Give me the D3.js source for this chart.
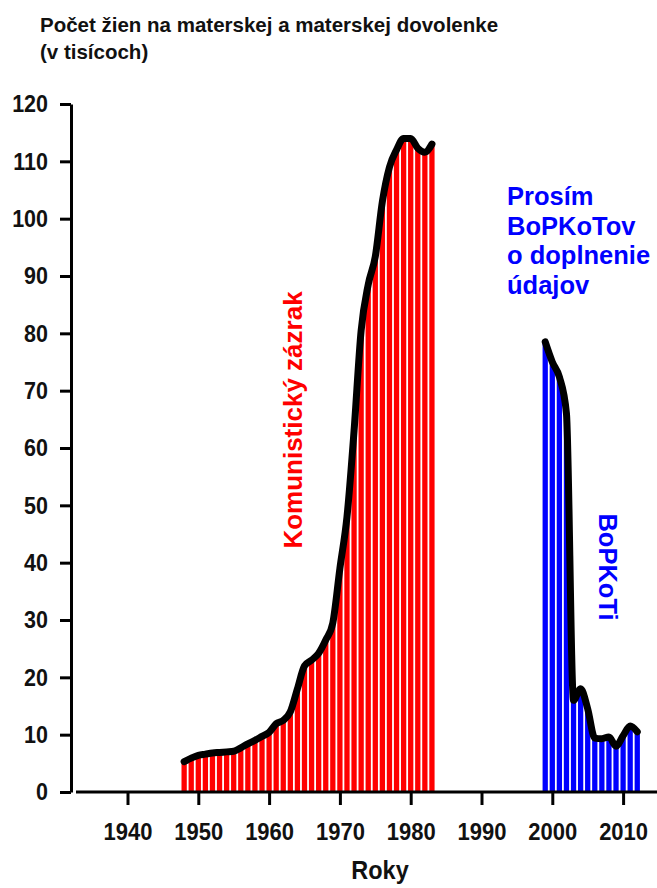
<!DOCTYPE html>
<html>
<head>
<meta charset="utf-8">
<script src="https://cdn.jsdelivr.net/npm/d3@7"></script>
<style>
  body { margin: 0; background: #fff; }
  text { font-family: "Liberation Sans", Arial, sans-serif; font-weight: bold; }
</style>
</head>
<body>
<svg id="chart" width="657" height="888"></svg>
<script>
// Data - years and values (thousands)
var redYears = d3.range(1948, 1984);
var redValues = [5.3, 5.9, 6.4, 6.6, 6.8, 6.9, 7.0, 7.1, 7.7, 8.4, 9.0, 9.7,
                 10.4, 11.9, 12.5, 14.0, 18.0, 22.0, 23.0, 24.2, 26.5, 29.5,
                 39.0, 48.0, 63.0, 80.5, 88.5, 93.4, 103.0, 109.0, 112.0, 114.0,
                 114.0, 112.3, 111.6, 113.0];
var blueYears = d3.range(1999, 2013);
var blueValues = [78.5, 75.0, 72.4, 66.0, 16.0, 18.0, 14.5, 9.4, 9.3, 9.6, 8.0, 9.8, 11.5, 10.5];
var xTicks = [1940, 1950, 1960, 1970, 1980, 1990, 2000, 2010];
var yTicks = [0, 10, 20, 30, 40, 50, 60, 70, 80, 90, 100, 110, 120];

var svg = d3.select("#chart");
var stretch = 1.12; // labels in the original are a bit taller than wide

// scales
var x = d3.scaleLinear().domain([1940, 2010]).range([127.5, 623.1]);
var y = d3.scaleLinear().domain([0, 120]).range([792, 104]);
var step = x(1941) - x(1940);

// title
var title = svg.append("text").attr("font-size", "20.5px").attr("fill", "#111");
title.append("tspan").attr("x", 40).attr("y", 32).text("Počet žien na materskej a materskej dovolenke");
title.append("tspan").attr("x", 40).attr("y", 59).text("(v tisícoch)");

// bars
function drawBars(years, values, color) {
    svg.append("g").selectAll("rect").data(years).enter().append("rect")
        .attr("x", function(d) { return x(d) - step / 2 + 0.9; })
        .attr("width", step - 1.8)
        .attr("y", function(d, i) { return y(values[i]); })
        .attr("height", function(d, i) { return y(0) - y(values[i]); })
        .attr("fill", color);
}
drawBars(redYears, redValues, "#ff0000");
drawBars(blueYears, blueValues, "#0000ff");

// lines
var line = d3.line()
    .x(function(d) { return x(d[0]); })
    .y(function(d) { return y(d[1]); })
    .curve(d3.curveMonotoneX);

function drawLine(years, values) {
    svg.append("path")
        .datum(d3.zip(years, values))
        .attr("d", line)
        .attr("fill", "none")
        .attr("stroke", "#000")
        .attr("stroke-width", 7)
        .attr("stroke-linejoin", "round")
        .attr("stroke-linecap", "round");
}
drawLine(redYears, redValues);
drawLine(blueYears, blueValues);

// Y axis
var yAxis = svg.append("g").attr("transform", "translate(71,0)")
    .call(d3.axisLeft(y).tickValues(yTicks).tickSize(11).tickPadding(12).tickSizeOuter(0));
yAxis.select(".domain").attr("stroke-width", 3).attr("stroke", "#000");
yAxis.selectAll(".tick line").attr("stroke-width", 3).attr("stroke", "#000");
yAxis.selectAll(".tick text")
    .attr("font-size", "21.5px").attr("font-family", "Liberation Sans").attr("fill", "#111")
    .attr("transform", "scale(1," + stretch + ")");

// X axis
var xAxis = svg.append("g").attr("transform", "translate(0,792)")
    .call(d3.axisBottom(x).tickValues(xTicks).tickFormat(d3.format("d")).tickSize(13).tickPadding(17).tickSizeOuter(0));
xAxis.select(".domain").remove();
xAxis.append("line").attr("x1", 76).attr("x2", 657).attr("stroke", "#000").attr("stroke-width", 3);
xAxis.selectAll(".tick line").attr("stroke-width", 3).attr("stroke", "#000");
xAxis.selectAll(".tick text")
    .attr("font-size", "22px").attr("font-family", "Liberation Sans").attr("fill", "#111")
    .attr("y", 31 / stretch)
    .attr("transform", "scale(1," + stretch + ")");

// X label
svg.append("text").text("Roky")
    .attr("transform", "translate(380,879) scale(1," + stretch + ")")
    .attr("text-anchor", "middle").attr("font-size", "23.5px").attr("fill", "#111");

// annotations
svg.append("text").text("Komunistický zázrak")
    .attr("transform", "translate(302,420) rotate(-90)")
    .attr("text-anchor", "middle")
    .attr("font-size", "26px").attr("fill", "#ff0000");

var note = svg.append("text").attr("font-size", "25.5px").attr("fill", "#0000ff");
["Prosím", "BoPKoTov", "o doplnenie", "údajov"].forEach(function(t, i) {
    note.append("tspan").attr("x", 507).attr("y", 205 + i * 29.5).text(t);
});

svg.append("text").text("BoPKoTi")
    .attr("transform", "translate(599,567) rotate(90)")
    .attr("text-anchor", "middle")
    .attr("font-size", "25.5px").attr("fill", "#0000ff");
</script>
</body>
</html>
